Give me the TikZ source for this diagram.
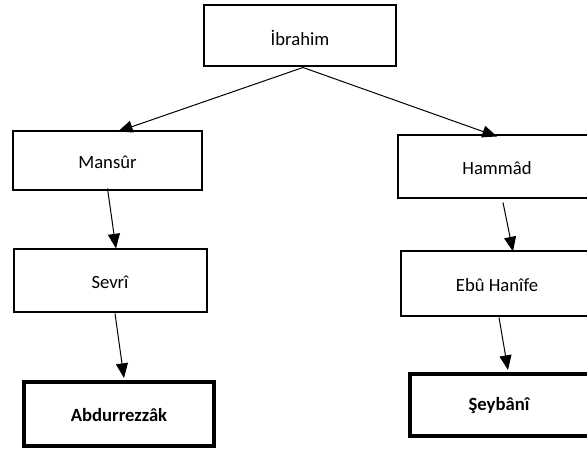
\documentclass[tikz,border=0pt]{standalone}
\usepackage{fontspec}
\setmainfont{Carlito}
\usetikzlibrary{arrows.meta,calc}
\begin{document}
\begin{tikzpicture}[x=0.75pt,y=-0.75pt,
  box/.style={draw=black,line width=1.5pt,fill=white,inner sep=0pt},
  boldbox/.style={box,line width=3pt},
  txt/.style={inner sep=0pt,font=\fontsize{14}{16}\selectfont},
  boldtxt/.style={txt,font=\fontsize{14}{16}\selectfont\bfseries},
  arr/.style={line width=0.75pt,-{Triangle[length=11pt,width=9pt]}}]
\useasboundingbox (0,0) rectangle (587,449);
\clip (0,0) rectangle (587,449);
\node[box,minimum width=192*0.75pt,minimum height=61*0.75pt] (ibr) at (300,36) {};
\node[txt] (ibrt) at (300,38) {İbrahim};
\node[box,minimum width=189*0.75pt,minimum height=59*0.75pt] (man) at (107.5,161) {};
\node[txt] (mant) at (107.5,162) {Mansûr};
\node[box,minimum width=193*0.75pt,minimum height=63*0.75pt] (sev) at (110,281) {};
\node[txt] (sevt) at (110,282) {Sevrî};
\node[boldbox,minimum width=190*0.75pt,minimum height=64*0.75pt] (abd) at (119,414) {};
\node[boldtxt] (abdt) at (119,415) {Abdurrezzâk};
\node[box,minimum width=232*0.75pt,minimum height=63*0.75pt] (ham) at (514,167) {};
\node[txt] (hamt) at (497,168) {Hammâd};
\node[box,minimum width=229*0.75pt,minimum height=65*0.75pt] (ebu) at (515.5,284) {};
\node[txt] (ebut) at (497,285) {Ebû Hanîfe};
\node[boldbox,minimum width=220*0.75pt,minimum height=62*0.75pt] (sey) at (520,405) {};
\node[boldtxt] (seyt) at (499,406) {Şeybânî};
\draw[arr] ($(ibr.south)+(3,0)$) -- ($(man.north)+(10.5,1)$);
\draw[arr] ($(ibr.south)+(3,0)$) -- ($(ham.north)+(-17,2)$);
\draw[arr] ($(man.south)+(0,-3)$) -- ($(sev.north)+(6,0)$);
\draw[arr] ($(sev.south)+(5,0)$) -- ($(abd.north)+(5,-2)$);
\draw[arr] ($(ham.south)+(-11,3)$) -- ($(ebu.north)+(-2.5,1)$);
\draw[arr] ($(ebu.south)+(-16.5,0)$) -- ($(sey.north)+(-12,-2)$);
\end{tikzpicture}
\end{document}
